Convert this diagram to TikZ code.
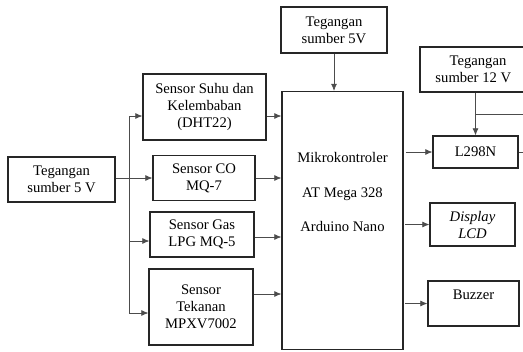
\documentclass[tikz,border=0pt]{standalone}
\usepackage{fontspec}
\setmainfont{Liberation Serif}
\usetikzlibrary{arrows.meta, positioning, calc}

\begin{document}
\begin{tikzpicture}[
		x=0.03cm, y=-0.03cm,
		>={Latex[length=6pt, width=5pt]},
		font=\fontsize{12.5}{14.5}\selectfont,
		blok/.style={draw=black!85, line width=1pt, align=center, inner sep=2pt},
		panah/.style={->, line width=0.6pt, draw=black!70},
		garis/.style={line width=0.6pt, draw=black!70}
		]
		\useasboundingbox (0,0) rectangle (523,351);
		
		% =========================================================
		% 1. Catu daya dan sensor (kiri)
		% =========================================================
		\node[blok, minimum width=107*0.03cm, minimum height=45*0.03cm] (sup5kiri) at (61.5,179.5) {Tegangan\\sumber 5 V};
		\node[blok, minimum width=123*0.03cm, minimum height=66*0.03cm] (suhu) at (204.5,107) {Sensor Suhu dan\\Kelembaban\\(DHT22)};
		\node[blok, minimum width=102*0.03cm, minimum height=45*0.03cm] (co) at (204,178) {Sensor CO\\MQ-7};
		\node[blok, minimum width=104*0.03cm, minimum height=45*0.03cm] (gas) at (202,234.5) {Sensor Gas\\LPG MQ-5};
		\node[blok, minimum width=104*0.03cm, minimum height=76*0.03cm] (tekanan) at (201,307) {Sensor\\Tekanan\\MPXV7002};
		
		% =========================================================
		% 2. Mikrokontroler (tengah)
		% =========================================================
		\node[blok, minimum width=106*0.03cm, minimum height=46*0.03cm] (sup5atas) at (334,30) {Tegangan\\sumber 5V};
		\node[blok, minimum width=121*0.03cm, minimum height=258*0.03cm] (mcu) at (342.5,220.5) {};
		\node[align=center] (mcuTeks) at (342.5,192) {Mikrokontroler\\[15pt]AT Mega 328\\[15pt]Arduino Nano};
		
		% =========================================================
		% 3. Aktuator dan tampilan (kanan)
		% =========================================================
		% kotak 12 V terpotong di tepi kanan
		\node[blok, minimum width=116*0.03cm, minimum height=45*0.03cm] (sup12) at (478,69.5) {Tegangan\\sumber 12 V\hspace*{8pt}};
		\node[blok, minimum width=85*0.03cm, minimum height=32*0.03cm] (l298) at (475.5,152) {L298N};
		\node[blok, minimum width=85*0.03cm, minimum height=43*0.03cm] (lcd) at (472.5,224.5) {\textit{Display}\\\textit{LCD}};
		\node[blok, minimum width=91*0.03cm, minimum height=45*0.03cm] (buzzer) at (473.5,303.5) {Buzzer\\\mbox{}};
		
		% titik bantu
		\coordinate (bus) at (129,0);
		\coordinate (kanan) at (530,0);
		\path ($(suhu.west)+(0,9)$) coordinate (suhuIn)
		      ($(suhu.east)+(0,9)$) coordinate (suhuOut)
		      ($(gas.west)+(0,6.5)$) coordinate (gasIn)
		      ($(gas.east)+(0,2.5)$) coordinate (gasOut)
		      ($(tekanan.west)+(0,6)$) coordinate (tekananIn)
		      ($(tekanan.east)+(0,-13)$) coordinate (tekananOut)
		      ($(l298.north |- sup12.south)!0.5!(l298.north)$) coordinate (cabang);
		
		% =========================================================
		% 4. Penghubung
		% =========================================================
		\draw[garis] (bus |- suhuIn) -- (bus |- tekananIn);
		\draw[panah] (bus |- suhuIn) -- (suhuIn);
		\draw[panah] (sup5kiri.east |- co.west) -- (co.west);
		\draw[panah] (bus |- gasIn) -- (gasIn);
		\draw[panah] (bus |- tekananIn) -- (tekananIn);
		
		\draw[panah] (suhuOut) -- (suhuOut -| mcu.west);
		\draw[panah] (co.east) -- (co.east -| mcu.west);
		\draw[panah] (gasOut) -- (gasOut -| mcu.west);
		\draw[panah] (tekananOut) -- (tekananOut -| mcu.west);
		
		\draw[panah] (sup5atas.south) -- (sup5atas.south |- mcu.north);
		
		\draw[panah, shorten <=2pt] (mcu.east |- l298.west) -- (l298.west);
		\draw[panah, shorten <=1.5pt] (mcu.east |- lcd.west) -- (lcd.west);
		\draw[panah, shorten <=1pt] (mcu.east |- buzzer.west) -- (buzzer.west);
		
		\draw[panah] (l298.north |- sup12.south) -- (l298.north);
		\draw[garis] (cabang) -- (cabang -| kanan);
		\draw[garis] (l298.east) -- (l298.east -| kanan);
	\end{tikzpicture}
\end{document}
